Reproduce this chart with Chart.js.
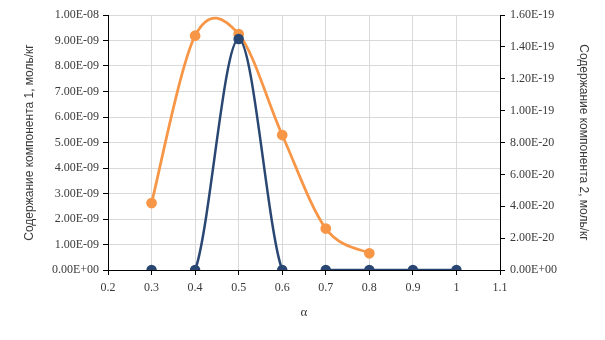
<!DOCTYPE html>
<html><head><meta charset="utf-8">
<script src="https://cdn.jsdelivr.net/npm/chart.js@4.4.1/dist/chart.umd.min.js"></script>
<style>html,body{margin:0;padding:0;background:#fff;}</style>
</head><body>
<canvas id="c" width="605" height="340" style="display:block;width:605px;height:340px"></canvas>
<script>
// Data
const alpha1 = [0.3, 0.4, 0.5, 0.6, 0.7, 0.8, 0.9, 1.0];
const comp1 = [0, 0, 9.06e-9, 0, 0, 0, 0, 0];
const alpha2 = [0.3, 0.4, 0.5, 0.6, 0.7, 0.8];
const comp2 = [4.2e-20, 1.47e-19, 1.48e-19, 8.47e-20, 2.6e-20, 1.05e-20];
const xTicks = [0.2, 0.3, 0.4, 0.5, 0.6, 0.7, 0.8, 0.9, 1.0, 1.1];
const y1Ticks = [0, 1e-9, 2e-9, 3e-9, 4e-9, 5e-9, 6e-9, 7e-9, 8e-9, 9e-9, 1e-8];
const y2Ticks = [0, 2e-20, 4e-20, 6e-20, 8e-20, 1e-19, 1.2e-19, 1.4e-19, 1.6e-19];
const xTitle = 'α';
const y1Title = 'Содержание компонента 1, моль/кг';
const y2Title = 'Содержание компонента 2, моль/кг';

function sci(v) {
  if (Math.abs(v) < 1e-30) return '0.00E+00';
  const parts = v.toExponential(2).split('e');
  const n = parseInt(parts[1], 10);
  return parts[0] + 'E' + (n < 0 ? '-' : '+') + String(Math.abs(n)).padStart(2, '0');
}
const BLUE = '#2a4773';
const ORANGE = '#f79646';
const TXT = '#3a3a3a';
const serif = {family: 'Liberation Serif', size: 12};
const sans = {family: 'Liberation Sans', size: 12};

// Smooth curve like a spreadsheet "smoothed line" (uniform Catmull-Rom control points)
const smoothPlugin = {
  id: 'smoothLine',
  beforeDatasetDraw(chart, args) {
    const meta = args.meta;
    const line = meta.dataset;
    if (!line) return;
    line.updateControlPoints(chart.chartArea, 'x');
    const pts = meta.data;
    const n = pts.length;
    for (let i = 0; i < n; i++) {
      const p = pts[i];
      const prev = pts[Math.max(0, i - 1)];
      const next = pts[Math.min(n - 1, i + 1)];
      const dx = (next.x - prev.x) / 6;
      const dy = (next.y - prev.y) / 6;
      p.cp1x = p.x - dx; p.cp1y = p.y - dy;
      p.cp2x = p.x + dx; p.cp2y = p.y + dy;
    }
  }
};

new Chart(document.getElementById('c'), {
  type: 'line',
  plugins: [smoothPlugin],
  data: {
    datasets: [
      {
        label: 'comp1',
        data: alpha1.map((x, i) => ({x: x, y: comp1[i]})),
        yAxisID: 'y',
        borderColor: BLUE, backgroundColor: BLUE,
        pointBackgroundColor: BLUE, pointBorderColor: BLUE,
        borderWidth: 2.5
      },
      {
        label: 'comp2',
        data: alpha2.map((x, i) => ({x: x, y: comp2[i]})),
        yAxisID: 'y2',
        borderColor: ORANGE, backgroundColor: ORANGE,
        pointBackgroundColor: ORANGE, pointBorderColor: ORANGE,
        borderWidth: 2.75
      }
    ]
  },
  options: {
    responsive: false,
    animation: false,
    devicePixelRatio: 1,
    layout: {padding: {top: 15, left: 0, right: 0, bottom: 0}},
    plugins: {legend: {display: false}, tooltip: {enabled: false}},
    elements: {
      point: {radius: 4, borderWidth: 0, hoverRadius: 4},
      line: {tension: 0.4, capBezierPoints: false, fill: false}
    },
    scales: {
      x: {
        type: 'linear', min: 0.2, max: 1.1,
        afterBuildTicks: s => { s.ticks = xTicks.map(v => ({value: v})); },
        afterFit: s => { s.height = 70; },
        grid: {color: '#d9d9d9', tickColor: '#000', tickLength: 5, lineWidth: 1},
        border: {color: '#000', width: 1},
        ticks: {font: serif, color: TXT, padding: 6, maxRotation: 0, autoSkip: false,
                callback: v => String(Math.round(v * 10) / 10)},
        title: {display: true, text: xTitle, font: {family: 'Liberation Serif', size: 13}, color: TXT,
                padding: {top: 0, bottom: 20}}
      },
      y: {
        type: 'linear', position: 'left', min: 0, max: 1e-8,
        afterBuildTicks: s => { s.ticks = y1Ticks.map(v => ({value: v})); },
        afterFit: s => { s.width = 108; },
        grid: {color: '#d9d9d9', tickColor: '#000', tickLength: 5, lineWidth: 1},
        border: {color: '#000', width: 1},
        ticks: {font: serif, color: TXT, padding: 4, callback: v => sci(v)},
        title: {display: true, text: y1Title, font: sans, color: TXT, padding: {top: 22, bottom: 0}}
      },
      y2: {
        type: 'linear', position: 'right', min: 0, max: 1.6e-19,
        afterBuildTicks: s => { s.ticks = y2Ticks.map(v => ({value: v})); },
        afterFit: s => { s.width = 105; },
        grid: {drawOnChartArea: false, tickColor: '#000', tickLength: 5, lineWidth: 1},
        border: {color: '#000', width: 1},
        ticks: {font: serif, color: TXT, padding: 5, callback: v => sci(v)},
        title: {display: true, text: y2Title, font: sans, color: TXT, padding: {top: 14, bottom: 0}}
      }
    }
  }
});
</script>
</body></html>
